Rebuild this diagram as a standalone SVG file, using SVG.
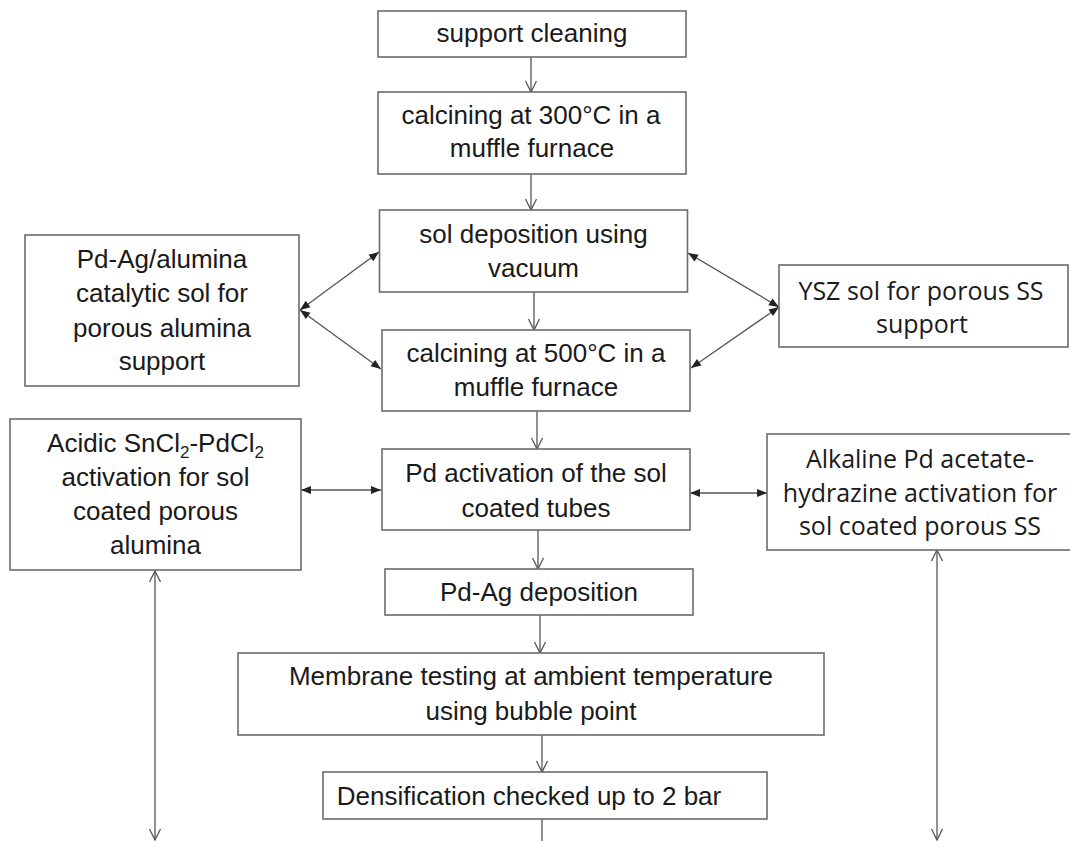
<svg xmlns="http://www.w3.org/2000/svg" width="1070" height="841" viewBox="0 0 1070 841">
<style>
.box{fill:#fff;stroke:#6b6b6b;stroke-width:1.6}
.t{font-family:"Liberation Sans",Arial,sans-serif;font-size:26px;fill:#1a1a1a;text-anchor:middle}
.o{font-family:"Open Sans","DejaVu Sans",sans-serif;font-size:25px;fill:#1a1a1a;text-anchor:middle}
.ln{stroke:#555;stroke-width:1.3;fill:none}
.v{marker-end:url(#vh)}
.vv{marker-start:url(#vh);marker-end:url(#vh)}
.ff{marker-start:url(#fh);marker-end:url(#fh)}
</style>
<defs>
<marker id="vh" markerUnits="userSpaceOnUse" markerWidth="12" markerHeight="12" refX="11" refY="5.5" orient="auto-start-reverse" overflow="visible"><path d="M0,0 L11,5.5 L0,11" fill="none" stroke="#555" stroke-width="1.3"/></marker>
<marker id="fh" markerUnits="userSpaceOnUse" markerWidth="11" markerHeight="9" refX="10" refY="4" orient="auto-start-reverse" overflow="visible"><path d="M0,0 L10,4 L0,8 Z" fill="#222"/></marker>
</defs>
<rect width="1070" height="841" fill="#fff"/>

<g id="connectors">
<line class="ln v" x1="531" y1="57" x2="531" y2="92"/>
<line class="ln v" x1="531" y1="174" x2="531" y2="210"/>
<line class="ln v" x1="534" y1="292" x2="534" y2="330"/>
<line class="ln v" x1="537" y1="411" x2="537" y2="449"/>
<line class="ln v" x1="538" y1="530" x2="538" y2="569"/>
<line class="ln v" x1="540" y1="615" x2="540" y2="653"/>
<line class="ln v" x1="542" y1="735" x2="542" y2="772"/>
<line class="ln" x1="542" y1="819" x2="542" y2="845"/>
<line class="ln ff" x1="300" y1="310" x2="379" y2="252"/>
<line class="ln ff" x1="300" y1="310" x2="381" y2="369"/>
<line class="ln ff" x1="779" y1="307" x2="688" y2="253"/>
<line class="ln ff" x1="779" y1="307" x2="691" y2="368"/>
<line class="ln ff" x1="301" y1="490" x2="381" y2="490"/>
<line class="ln ff" x1="690" y1="493" x2="767" y2="493"/>
<line class="ln vv" x1="155" y1="571" x2="155" y2="840"/>
<line class="ln vv" x1="937" y1="550" x2="937" y2="840"/>
</g>

<g id="n1"><rect class="box" x="378" y="11" width="308" height="46"/><text class="t" x="532" y="42">support cleaning</text></g>
<g id="n2"><rect class="box" x="378" y="92" width="308" height="82"/><text class="t" x="531" y="124">calcining at 300°C in a</text><text class="t" x="532" y="157">muffle furnace</text></g>
<g id="n3"><rect class="box" x="379.5" y="210" width="308" height="82"/><text class="t" x="533.5" y="243">sol deposition using</text><text class="t" x="533.5" y="277">vacuum</text></g>
<g id="n4"><rect class="box" x="382" y="330" width="308" height="81"/><text class="t" x="536" y="362">calcining at 500°C in a</text><text class="t" x="536" y="396">muffle furnace</text></g>
<g id="n5"><rect class="box" x="25" y="235" width="274" height="151"/><text class="t" x="162" y="268">Pd-Ag/alumina</text><text class="t" x="162" y="302">catalytic sol for</text><text class="t" x="162" y="337">porous alumina</text><text class="t" x="162" y="370">support</text></g>
<g id="n6"><rect class="box" x="779" y="265" width="289" height="82"/><text class="o" x="921" y="300">YSZ sol for porous SS</text><text class="o" x="922" y="333">support</text></g>
<g id="n7"><rect class="box" x="10" y="419" width="291" height="151"/><text class="t" x="155.5" y="452">Acidic SnCl<tspan font-size="17" dy="6">2</tspan><tspan dy="-6">-PdCl</tspan><tspan font-size="17" dy="6">2</tspan></text><text class="t" x="155.5" y="486">activation for sol</text><text class="t" x="155.5" y="520">coated porous</text><text class="t" x="155.5" y="554">alumina</text></g>
<g id="n8"><rect class="box" x="382" y="449" width="308" height="81"/><text class="t" x="536" y="482">Pd activation of the sol</text><text class="t" x="536" y="517">coated tubes</text></g>
<g id="n9"><rect class="box" x="767" y="434" width="305" height="116"/><text class="o" x="920" y="468">Alkaline Pd acetate-</text><text class="o" x="920" y="502">hydrazine activation for</text><text class="o" x="920" y="535">sol coated porous SS</text></g>
<g id="n10"><rect class="box" x="385" y="569" width="308" height="46"/><text class="t" x="539" y="601">Pd-Ag deposition</text></g>
<g id="n11"><rect class="box" x="238" y="653" width="586" height="82"/><text class="t" x="531" y="685">Membrane testing at ambient temperature</text><text class="t" x="531" y="720">using bubble point</text></g>
<g id="n12"><rect class="box" x="323" y="772" width="444" height="47"/><text class="t" x="529" y="805">Densification checked up to 2 bar</text></g>
</svg>
